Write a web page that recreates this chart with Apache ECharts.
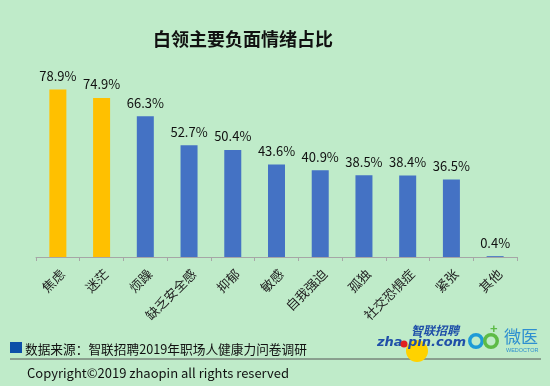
<!DOCTYPE html>
<html><head><meta charset="utf-8">
<script src="https://cdn.jsdelivr.net/npm/echarts@6/dist/echarts.min.js"></script>
<style>html,body{margin:0;padding:0;background:#BFEBC9;}#c{width:550px;height:386px;}</style>
</head><body><div id="c"></div>
<script>
const categories = ['焦虑','迷茫','烦躁','缺乏安全感','抑郁','敏感','自我强迫','孤独','社交恐惧症','紧张','其他'];
const values = [78.9, 74.9, 66.3, 52.7, 50.4, 43.6, 40.9, 38.5, 38.4, 36.5, 0.4];
const highlightCount = 2;
const titleText = '白领主要负面情绪占比';
const sourceText = '数据来源：智联招聘2019年职场人健康力问卷调研';
const copyrightText = 'Copyright©2019 zhaopin all rights reserved';

const FONT = '"Noto Sans CJK SC", "Noto Sans", sans-serif';
const chart = echarts.init(document.getElementById('c'), null, {renderer:'canvas'});
chart.setOption({
  backgroundColor: '#BFEBC9',
  animation: false,
  title: {text: titleText, left: 238, top: 25, textAlign: 'center',
    textStyle: {fontFamily: FONT, fontSize: 18, fontWeight: 'bold', color: '#111'}},
  grid: {left: 36, right: 33, top: 66, bottom: 129},
  xAxis: {type: 'category', data: categories,
    axisLine: {lineStyle: {color: '#A6A6A6'}},
    axisTick: {show: true, length: 4, lineStyle: {color: '#A6A6A6'}},
    axisLabel: {rotate: 45, fontSize: 13, color: '#222', fontFamily: FONT, margin: 10, interval: 0, verticalAlign: 'top'}},
  yAxis: {type: 'value', min: 0, max: 90, show: false, splitLine: {show: false}},
  series: [{type: 'bar', barWidth: 17,
    data: values.map((v, i) => ({value: v, itemStyle: {color: i < highlightCount ? '#FFC000' : '#4472C4'}})),
    label: {show: true, position: 'top', distance: 7, fontSize: 13, color: '#111', fontFamily: FONT,
      formatter: p => p.value.toFixed(1) + '%'}}],
  graphic: [
    {type: 'rect', shape: {x: 10, y: 342, width: 12, height: 11}, style: {fill: '#0D4FA8'}},
    {type: 'text', x: 25, y: 349, style: {text: sourceText, font: '12.7px ' + FONT, fill: '#111', textVerticalAlign: 'middle'}},
    {type: 'line', shape: {x1: 10, y1: 359, x2: 541, y2: 359}, style: {stroke: '#555', lineWidth: 1}},
    {type: 'text', x: 27, y: 373, style: {text: copyrightText, font: '13px ' + FONT, fill: '#111', textVerticalAlign: 'middle'}},
    {type: 'circle', shape: {cx: 417, cy: 351, r: 11}, style: {fill: '#FFD200'}},
    {type: 'text', x: 377, y: 343, style: {text: 'zha', font: 'italic bold 13px "DejaVu Sans", sans-serif', fill: '#1F4FA8', textVerticalAlign: 'middle'}},
    {type: 'circle', shape: {cx: 404, cy: 344, r: 3.5}, style: {fill: '#E02020'}},
    {type: 'text', x: 408, y: 343, style: {text: 'pin.com', font: 'italic bold 13px "DejaVu Sans", sans-serif', fill: '#1F4FA8', textVerticalAlign: 'middle'}},
    {type: 'text', x: 411, y: 330, style: {text: '智联招聘', font: 'italic bold 12px ' + FONT, fill: '#1F4FA8', textVerticalAlign: 'middle'}},
    {type: 'ring', shape: {cx: 476, cy: 341, r: 8, r0: 4.5}, style: {fill: '#1E9BD7'}},
    {type: 'ring', shape: {cx: 491, cy: 341, r: 8, r0: 4.5}, style: {fill: '#5DBB46'}},
    {type: 'text', x: 490, y: 329, style: {text: '+', font: 'bold 13px sans-serif', fill: '#5DBB46', textVerticalAlign: 'middle'}},
    {type: 'text', x: 504, y: 337, style: {text: '微医', font: '17px ' + FONT, fill: '#2E8FD0', textVerticalAlign: 'middle'}},
    {type: 'text', x: 506, y: 350, style: {text: 'WEDOCTOR', font: '5.5px sans-serif', fill: '#2E8FD0', textVerticalAlign: 'middle'}}
  ]
});
</script></body></html>
